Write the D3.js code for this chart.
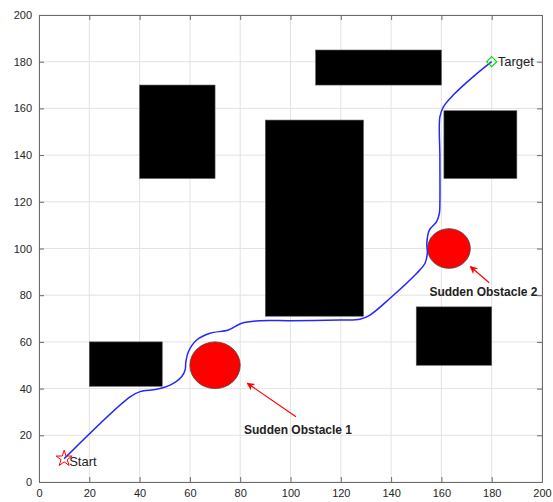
<!DOCTYPE html>
<html>
<head>
<meta charset="utf-8">
<script src="https://cdn.jsdelivr.net/npm/d3@7"></script>
<style>
  body { margin: 0; background: #fff; }
  text { font-family: Arial, "Liberation Sans", sans-serif; }
</style>
</head>
<body>
<div class="chart"></div>
<script>
// static obstacles [x0, y0, x1, y1]
const blocks = [
    [20, 41, 49, 60],
    [40, 130, 70, 170],
    [90, 71, 129, 155],
    [110, 170, 160, 185],
    [161, 130, 190, 159],
    [150, 50, 180, 75]
]

// sudden obstacles [cx, cy, r]
const sudden = [
    [70, 50, 10],
    [163, 100, 8.5]
]

// labels with arrow
const notes = [
    { label: "Sudden Obstacle 1", pos: [103, 20.5], tail: [102.2, 27.9], head: [82.8, 42.3] },
    { label: "Sudden Obstacle 2", pos: [176.7, 79.5], tail: [179, 85.3], head: [171.5, 92.3] }
]

const startPt = [10, 10]
const targetPt = [180, 180]

const pathX = [10, 36.2, 40.2, 46.8, 52.1, 56.7, 58.1, 58.4, 59.4, 62.7, 68, 75.3, 80.6, 87.9, 99.8,
    119.7, 127.6, 131.6, 139.6, 150.2, 153.5, 154.4, 154.2, 155.2, 158.1, 159.2, 159.4, 159.4, 159.4,
    160.8, 164.7, 172.7, 180]
const pathY = [10, 36.5, 38.7, 39.7, 41.5, 45.1, 48, 51.5, 55.8, 60.8, 63.7, 65.1, 68, 69.1, 69.1,
    69.4, 69.7, 71.5, 78.7, 89.4, 93.7, 97.9, 102.2, 107.9, 111.5, 115.1, 119.4, 139.3, 156.4,
    160.7, 165.7, 173.6, 180]

const ticks = [0, 20, 40, 60, 80, 100, 120, 140, 160, 180, 200]

const margin = ({ top: 15, right: 11, bottom: 20, left: 39 })
const width = 553 - margin.left - margin.right,
    height = 502 - margin.top - margin.bottom;

let svg = d3.select(".chart").append("svg")
    .attr("width", 553)
    .attr("height", 502)
    .append("g")
    .attr("transform", "translate(" + margin.left + "," + margin.top + ")");

let xScale = d3.scaleLinear().domain([0, 200]).range([0, width])
let yScale = d3.scaleLinear().domain([0, 200]).range([height, 0])

// grid
svg.append("g")
    .selectAll("line.gx")
    .data(ticks)
    .join("line")
    .attr("x1", d => xScale(d)).attr("x2", d => xScale(d))
    .attr("y1", 0).attr("y2", height)
    .attr("stroke", "#e3e3e3").attr("stroke-width", 1)
svg.append("g")
    .selectAll("line.gy")
    .data(ticks)
    .join("line")
    .attr("y1", d => yScale(d)).attr("y2", d => yScale(d))
    .attr("x1", 0).attr("x2", width)
    .attr("stroke", "#e3e3e3").attr("stroke-width", 1)

// axes (ticks inward, on all four sides)
const axColor = "#6b6b6b"
let xAxis = d3.axisBottom(xScale).tickValues(ticks).tickSize(-5).tickPadding(7)
let yAxis = d3.axisLeft(yScale).tickValues(ticks).tickSize(-5).tickPadding(7)

let gx = svg.append("g").attr("transform", `translate(0, ${height})`).call(xAxis)
let gy = svg.append("g").call(yAxis)
let gxt = svg.append("g").call(d3.axisTop(xScale).tickValues(ticks).tickSize(-5).tickFormat(""))
let gyr = svg.append("g").attr("transform", `translate(${width}, 0)`)
    .call(d3.axisRight(yScale).tickValues(ticks).tickSize(-5).tickFormat(""))

;[gx, gy, gxt, gyr].forEach(g => {
    g.select(".domain").attr("stroke", axColor)
    g.selectAll(".tick line").attr("stroke", axColor)
    g.selectAll(".tick text").attr("fill", "#262626")
        .style("font-size", "11px")
        .style("font-family", "Arial, 'Liberation Sans', sans-serif")
})

// obstacles
svg.append("g")
    .selectAll("rect")
    .data(blocks)
    .join("rect")
    .attr("x", d => xScale(d[0]))
    .attr("y", d => yScale(d[3]))
    .attr("width", d => xScale(d[2]) - xScale(d[0]))
    .attr("height", d => yScale(d[1]) - yScale(d[3]))
    .attr("fill", "#000")
    .attr("stroke", "#555")
    .attr("stroke-width", 0.6)

svg.append("g")
    .selectAll("ellipse")
    .data(sudden)
    .join("ellipse")
    .attr("cx", d => xScale(d[0]))
    .attr("cy", d => yScale(d[1]))
    .attr("rx", d => xScale(d[2]) - xScale(0))
    .attr("ry", d => yScale(0) - yScale(d[2]))
    .attr("fill", "#ff0000")
    .attr("stroke", "#444")
    .attr("stroke-width", 0.8)

// planned path
const pathData = pathX.map((x, i) => [x, pathY[i]])
let line = d3.line()
    .x(d => xScale(d[0]))
    .y(d => yScale(d[1]))
    .curve(d3.curveCatmullRom.alpha(0.5))

svg.append("path")
    .datum(pathData)
    .attr("fill", "none")
    .attr("stroke", "#2626ff")
    .attr("stroke-width", 1.5)
    .attr("d", line)

// start marker (pentagram)
let star = d3.symbol().type(d3.symbolStar).size(80)
svg.append("path")
    .attr("d", star())
    .attr("transform", `translate(${xScale(startPt[0])}, ${yScale(startPt[1])})`)
    .attr("fill", "none")
    .attr("stroke", "#ff0000")
    .attr("stroke-width", 1)

svg.append("text")
    .attr("x", xScale(startPt[0]) + 5)
    .attr("y", yScale(startPt[1]) + 7)
    .attr("fill", "#222")
    .style("font-size", "13px")
    .text("Start")

// target marker (diamond)
let s = 5
svg.append("path")
    .attr("d", `M0,${-s}L${s},0L0,${s}L${-s},0Z`)
    .attr("transform", `translate(${xScale(targetPt[0])}, ${yScale(targetPt[1])})`)
    .attr("fill", "none")
    .attr("stroke", "#00e000")
    .attr("stroke-width", 1.2)

svg.append("text")
    .attr("x", xScale(targetPt[0]) + 6)
    .attr("y", yScale(targetPt[1]) + 4.5)
    .attr("fill", "#222")
    .style("font-size", "13px")
    .text("Target")

// annotations
svg.append("defs").append("marker")
    .attr("id", "head")
    .attr("viewBox", "0 0 10 10")
    .attr("refX", 9).attr("refY", 5)
    .attr("markerWidth", 10).attr("markerHeight", 8)
    .attr("markerUnits", "userSpaceOnUse")
    .attr("orient", "auto")
    .append("path")
    .attr("d", "M0,0L10,5L0,10L3,5Z")
    .attr("fill", "#ff0000")

let ann = svg.append("g").selectAll("g").data(notes).join("g")
ann.append("line")
    .attr("x1", d => xScale(d.tail[0])).attr("y1", d => yScale(d.tail[1]))
    .attr("x2", d => xScale(d.head[0])).attr("y2", d => yScale(d.head[1]))
    .attr("stroke", "#ff0000").attr("stroke-width", 1.2)
    .attr("marker-end", "url(#head)")
ann.append("text")
    .attr("x", d => xScale(d.pos[0]))
    .attr("y", d => yScale(d.pos[1]))
    .attr("text-anchor", "middle")
    .attr("fill", "#222")
    .style("font-size", "12px")
    .style("font-weight", "bold")
    .text(d => d.label)
</script>
</body>
</html>
